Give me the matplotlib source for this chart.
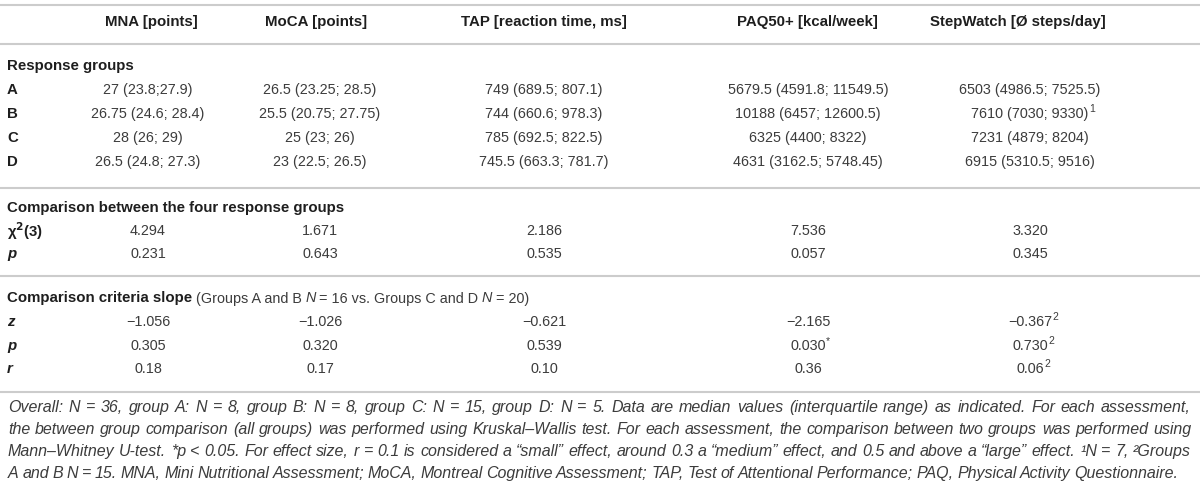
import matplotlib
matplotlib.use('Agg')
import matplotlib.pyplot as plt

plt.rcParams['font.family'] = ['Liberation Sans', 'DejaVu Sans']

# table content
headers = ['MNA [points]', 'MoCA [points]', 'TAP [reaction time, ms]',
           'PAQ50+ [kcal/week]', 'StepWatch [Ø steps/day]']
groups = ['A', 'B', 'C', 'D']
mna = ['27 (23.8;27.9)', '26.75 (24.6; 28.4)', '28 (26; 29)', '26.5 (24.8; 27.3)']
moca = ['26.5 (23.25; 28.5)', '25.5 (20.75; 27.75)', '25 (23; 26)', '23 (22.5; 26.5)']
tap = ['749 (689.5; 807.1)', '744 (660.6; 978.3)', '785 (692.5; 822.5)',
       '745.5 (663.3; 781.7)']
paq = ['5679.5 (4591.8; 11549.5)', '10188 (6457; 12600.5)', '6325 (4400; 8322)',
       '4631 (3162.5; 5748.45)']
stepwatch = ['6503 (4986.5; 7525.5)', '7610 (7030; 9330)^1', '7231 (4879; 8204)',
             '6915 (5310.5; 9516)']
chi2 = ['4.294', '1.671', '2.186', '7.536', '3.320']
p_kw = ['0.231', '0.643', '0.535', '0.057', '0.345']
z_mw = ['−1.056', '−1.026', '−0.621', '−2.165', '−0.367^2']
p_mw = ['0.305', '0.320', '0.539', '0.030^*', '0.730^2']
r_eff = ['0.18', '0.17', '0.10', '0.36', '0.06^2']

footnote = [
    'Overall: N = 36, group A: N = 8, group B: N = 8, group C: N = 15, group D: N = 5. '
    'Data are median values (interquartile range) as indicated. For each assessment,',
    'the between group comparison (all groups) was performed using Kruskal–Wallis test. '
    'For each assessment, the comparison between two groups was performed using',
    'Mann–Whitney U-test. *p < 0.05. For effect size, r = 0.1 is considered a “small” effect, '
    'around 0.3 a “medium” effect, and 0.5 and above a “large” effect. ¹N = 7, ²Groups',
    'A and B N = 15. MNA, Mini Nutritional Assessment; MoCA, Montreal Cognitive Assessment; '
    'TAP, Test of Attentional Performance; PAQ, Physical Activity Questionnaire.',
]

TXT = '#3c3c3c'
BOLD = '#1e1e1e'
RULE = '#cccccc'
FS = 10.8       # bold labels / headers (15 px)
FS_CELL = 10.4
FS_NOTE = 11.52  # 16 px, whole pixels keep the word baselines steady

fig = plt.figure(figsize=(12, 5), dpi=100)
ax = fig.add_axes([0, 0, 1, 1])
ax.set_xlim(0, 1200)
ax.set_ylim(500, 0)
ax.axis('off')
renderer = fig.canvas.get_renderer()


def width_of(t):
    bb = t.get_window_extent(renderer=renderer)
    return bb.width


def cell(x, y, s):
    main, _, sup = s.partition('^')
    t = ax.text(x, y, main, ha='center', va='center', fontsize=FS_CELL, color=TXT)
    if sup:
        w = width_of(t)
        ax.text(x + w / 2 + 0.5, y - 5, sup, ha='left', va='center',
                fontsize=7.5, color=TXT)


col_x = [148, 320, 544, 808, 1030]
hdr_x = [151, 316, 544, 807, 1018]
lab_x = 7

for y in [5, 44, 188, 276, 392]:
    ax.plot([0, 1200], [y, y], color=RULE, lw=1.5, solid_capstyle='butt')

for x, h in zip(hdr_x, headers):
    ax.text(x, 22, h, ha='center', va='center', fontsize=FS,
            fontweight='bold', color=BOLD)

# response groups
ax.text(lab_x, 66, 'Response groups', ha='left', va='center', fontsize=FS,
        fontweight='bold', color=BOLD)
columns = [mna, moca, tap, paq, stepwatch]
for i, g in enumerate(groups):
    y = 90 + i * 24
    ax.text(lab_x, y, g, ha='left', va='center', fontsize=FS,
            fontweight='bold', color=BOLD)
    for x, col in zip(col_x, columns):
        cell(x, y, col[i])

# Kruskal-Wallis
ax.text(lab_x, 208, 'Comparison between the four response groups', ha='left',
        va='center', fontsize=FS, fontweight='bold', color=BOLD)
ax.text(lab_x, 231, r'χ$^{\mathbf{2}}$(3)', ha='left', va='center', fontsize=FS,
        fontweight='bold', color=BOLD)
ax.text(lab_x, 254, 'p', ha='left', va='center', fontsize=FS,
        fontweight='bold', style='italic', color=BOLD)
for x, a, b in zip(col_x, chi2, p_kw):
    cell(x, 231, a)
    cell(x, 254, b)

# Mann-Whitney
t = ax.text(lab_x, 298, 'Comparison criteria slope', ha='left', va='center',
            fontsize=FS, fontweight='bold', color=BOLD)
xx = lab_x + width_of(t) + 4
runs = [('(Groups A and B', 'normal'), ('N', 'italic'), ('= 16 vs. Groups C and D', 'normal'),
        ('N', 'italic'), ('= 20)', 'normal')]
for s, st in runs:
    t = ax.text(xx, 302.5, s, ha='left', va='baseline', fontsize=FS_CELL, style=st,
                color=TXT)
    xx += width_of(t) + 3.5

for y, lab, vals in [(322, 'z', z_mw), (346, 'p', p_mw), (369, 'r', r_eff)]:
    ax.text(lab_x, y, lab, ha='left', va='center', fontsize=FS,
            fontweight='bold', style='italic', color=BOLD)
    for x, v in zip(col_x, vals):
        cell(x, y, v)

# footnote, justified between 8 and 1191 px, words share one baseline
left, right = 8, 1191
for k, line in enumerate(footnote):
    y = 412 + k * 22
    words = line.split(' ')
    arts = [ax.text(0, y, w, ha='left', va='baseline', fontsize=FS_NOTE,
                    style='italic', color=TXT) for w in words]
    widths = [width_of(a) for a in arts]
    if k < len(footnote) - 1:
        gap = (right - left - sum(widths)) / (len(words) - 1)
    else:
        gap = 3.6
    xx = left
    for a, w in zip(arts, widths):
        a.set_x(xx)
        xx += w + gap

fig.savefig('out.png', dpi=100)
